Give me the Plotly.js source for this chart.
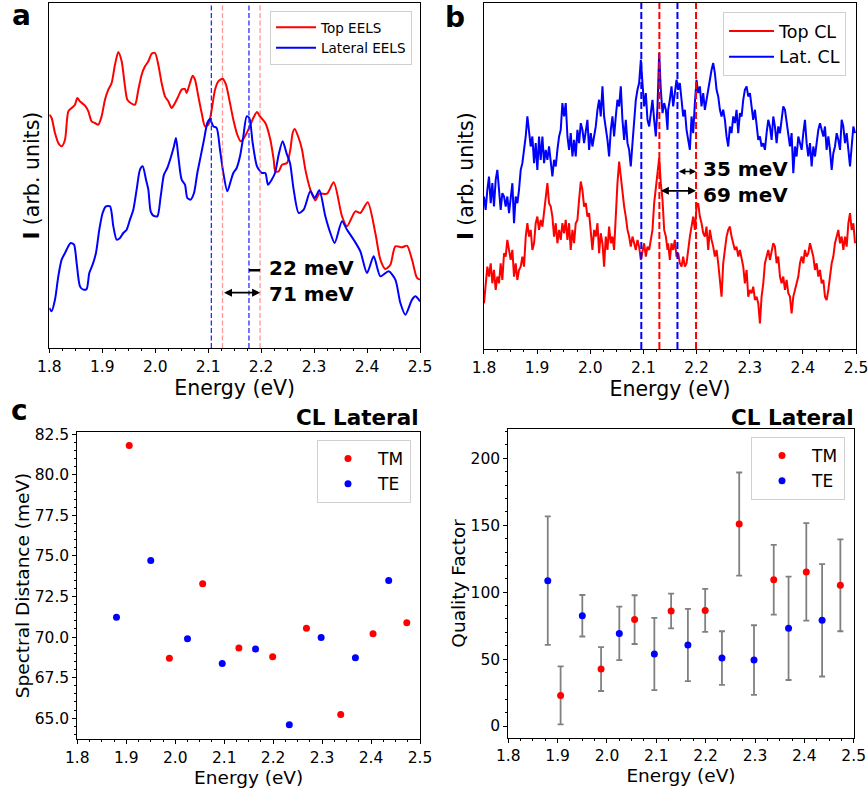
<!DOCTYPE html>
<html>
<head>
<meta charset="utf-8">
<script src="https://cdn.plot.ly/plotly-3.0.1.min.js"></script>
<style>html,body{margin:0;padding:0;background:#fff;}#chart{width:868px;height:790px;}</style>
</head>
<body>
<div id="chart"></div>
<script>
// ---------- Panel a : EELS spectra ----------
const eelsTopE = [1.800,1.8044,1.8107,1.8170,1.8233,1.8296,1.8359,1.8422,1.8485,1.8529,1.8579,1.8674,1.8737,1.8799,1.8862,1.8925,1.8988,1.9051,1.9114,1.9177,1.9240,1.9303,1.9366,1.9429,1.9473,1.9536,1.9618,1.9681,1.9744,1.9807,1.9870,1.9933,1.9996,2.0058,2.0121,2.0184,2.0247,2.0310,2.0373,2.0436,2.0499,2.0562,2.0593,2.0656,2.0707,2.0751,2.0814,2.0877,2.0940,2.1003,2.1066,2.1129,2.1192,2.1273,2.1336,2.1399,2.1475,2.1550,2.1613,2.1676,2.1758,2.1852,2.1922,2.1978,2.2079,2.2174,2.2237,2.2268,2.2331,2.2394,2.2488,2.2551,2.2595,2.2633,2.2709,2.2772,2.2835,2.2929,2.3023,2.3099,2.3244,2.3370,2.3527,2.3621,2.3779,2.3873,2.4012,2.4156,2.4251,2.4345,2.4440,2.4534,2.4660,2.4754,2.4849,2.4943,2.5000];
const eelsTopI = [70.0,69.0,64.5,61.5,60.5,62.5,71.0,72.0,73.0,75.0,74.0,72.7,71.0,68.0,67.5,67.0,69.5,74.5,77.5,79.5,85.0,88.8,86.0,78.5,74.5,73.5,73.0,77.5,82.0,84.5,86.0,88.3,88.5,85.0,79.5,75.5,74.0,72.0,73.5,75.5,77.5,77.7,76.5,79.5,81.7,80.5,75.5,70.5,66.5,67.0,71.5,77.5,80.0,80.8,79.0,74.5,68.5,64.0,62.0,63.0,65.5,69.0,70.8,69.5,67.5,62.5,56.5,53.0,53.0,55.0,55.5,59.5,64.5,65.7,63.0,59.5,53.5,47.5,44.3,46.3,46.3,49.7,39.5,36.5,41.0,40.5,43.7,34.5,26.5,23.7,25.0,30.5,30.2,30.7,26.5,21.0,20.5];
const eelsLatE = [1.800,1.8044,1.8107,1.8170,1.8233,1.8296,1.8359,1.8403,1.8466,1.8516,1.8579,1.8642,1.8705,1.8755,1.8818,1.8881,1.8944,1.9007,1.9070,1.9146,1.9209,1.9272,1.9335,1.9397,1.9460,1.9523,1.9586,1.9649,1.9712,1.9763,1.9826,1.9870,1.9914,1.9964,2.0040,2.0103,2.0165,2.0228,2.0291,2.0354,2.0392,2.0436,2.0499,2.0562,2.0606,2.0669,2.0732,2.0795,2.0858,2.0921,2.0984,2.1034,2.1097,2.1160,2.1223,2.1286,2.1361,2.1424,2.1475,2.1538,2.1601,2.1664,2.1727,2.1777,2.1840,2.1922,2.2016,2.2079,2.2129,2.2199,2.2262,2.2331,2.2406,2.2488,2.2545,2.2614,2.2709,2.2803,2.2929,2.3011,2.3099,2.3212,2.3307,2.3389,2.3527,2.3621,2.3747,2.3873,2.3999,2.4125,2.4251,2.4408,2.4534,2.4629,2.4723,2.4849,2.4912,2.5000];
const eelsLatI = [12.0,11.0,14.5,21.5,26.5,28.5,30.5,31.5,31.0,25.5,18.5,17.5,17.7,22.5,25.0,28.5,35.5,40.5,42.5,42.5,36.5,32.5,33.0,34.5,35.5,38.5,41.5,47.5,53.5,54.5,50.5,47.5,41.0,39.7,39.5,45.5,52.0,54.0,57.0,60.5,63.0,57.5,50.5,49.0,45.0,44.5,46.5,52.5,57.5,62.5,67.5,68.7,66.5,66.0,59.5,52.5,47.0,50.0,52.5,54.0,57.5,63.5,69.5,69.0,61.5,54.5,52.5,52.5,49.0,50.5,52.5,58.0,62.0,58.0,55.5,47.5,40.5,41.5,47.0,45.0,47.3,39.5,34.5,31.5,38.0,35.5,32.5,29.0,22.5,27.5,21.5,23.0,20.5,13.5,10.0,14.5,15.5,14.0];
const eelsTopPeaks = [2.127, 2.198];
const eelsLatPeaks = [2.106, 2.177];

// ---------- Panel b : CL spectra ----------
const clE = [1.8000,1.8031,1.8063,1.8094,1.8126,1.8157,1.8188,1.8220,1.8251,1.8283,1.8314,1.8345,1.8377,1.8408,1.8439,1.8471,1.8502,1.8534,1.8565,1.8596,1.8628,1.8659,1.8691,1.8722,1.8753,1.8785,1.8816,1.8848,1.8879,1.8910,1.8942,1.8973,1.9004,1.9036,1.9067,1.9099,1.9130,1.9161,1.9193,1.9224,1.9256,1.9287,1.9318,1.9350,1.9381,1.9413,1.9444,1.9475,1.9507,1.9538,1.9570,1.9601,1.9632,1.9664,1.9695,1.9726,1.9758,1.9789,1.9821,1.9852,1.9883,1.9915,1.9946,1.9978,2.0009,2.0040,2.0072,2.0103,2.0135,2.0166,2.0197,2.0229,2.0260,2.0291,2.0323,2.0354,2.0386,2.0417,2.0448,2.0480,2.0511,2.0543,2.0574,2.0605,2.0637,2.0668,2.0700,2.0731,2.0762,2.0794,2.0825,2.0857,2.0888,2.0919,2.0951,2.0982,2.1013,2.1045,2.1076,2.1108,2.1139,2.1170,2.1202,2.1233,2.1265,2.1296,2.1327,2.1359,2.1390,2.1422,2.1453,
2.1465,2.1497,2.1528,2.1560,2.1591,2.1622,2.1654,2.1685,2.1717,2.1748,2.1779,2.1811,2.1842,2.1874,2.1905,2.1936,2.1968,2.1999,2.2030,2.2062,2.2093,2.2125,2.2156,2.2187,2.2219,2.2250,2.2282,2.2313,2.2344,2.2376,2.2407,2.2439,2.2470,2.2501,2.2533,2.2564,2.2595,2.2627,2.2658,2.2690,2.2721,2.2752,2.2784,2.2815,2.2847,2.2878,2.2909,2.2941,2.2972,2.3004,2.3035,2.3066,2.3098,2.3129,2.3161,2.3192,2.3223,2.3255,2.3286,2.3317,2.3349,2.3380,2.3412,2.3443,2.3474,2.3506,2.3537,2.3569,2.3600,2.3631,2.3663,2.3694,2.3726,2.3757,2.3788,2.3820,2.3851,2.3882,2.3914,2.3945,2.3977,2.4008,2.4039,2.4071,2.4102,2.4134,2.4165,2.4196,2.4228,2.4259,2.4291,2.4322,2.4353,2.4385,2.4416,2.4447,2.4479,2.4510,2.4542,2.4573,2.4604,2.4636,2.4667,2.4699,2.4730,2.4761,2.4793,2.4824,2.4856,2.4887,2.4918,2.4950,2.4981];
const clTopI = [13.7,19.7,24.7,21.7,25.7,19.7,23.7,17.7,21.7,19.7,
25.7,20.7,28.7,27.7,32.7,29.7,26.7,29.7,21.7,25.7,
20.7,23.7,24.7,27.7,24.7,33.7,37.7,33.7,35.7,29.7,
31.7,37.7,39.7,35.7,38.7,36.7,40.7,44.7,49.7,43.7,
42.7,39.7,33.7,37.7,31.7,35.7,32.7,37.7,34.7,38.7,
32.7,37.7,29.7,35.7,31.7,37.7,38.7,44.7,50.2,47.7,
42.7,43.7,39.7,40.7,33.7,29.7,35.7,33.7,37.7,28.7,
34.7,31.7,24.7,33.7,29.7,36.7,31.7,33.7,29.7,41.7,
49.7,56.2,51.7,46.7,42.7,39.7,35.7,33.7,30.7,33.7,
31.7,29.7,32.7,30.7,26.7,29.7,31.7,27.7,30.7,29.7,
32.7,35.7,43.7,47.7,52.7,57.2,49.7,44.7,35.7,33.7,
29.7,
31.7,26.7,31.7,29.7,32.7,27.7,28.7,25.7,24.7,27.7,
24.7,25.7,30.7,33.7,36.7,39.7,35.7,42.7,43.7,39.7,
37.7,34.7,33.7,36.7,29.7,35.7,32.7,30.7,27.7,29.7,
25.7,19.7,15.7,25.7,29.7,33.7,35.7,36.7,33.7,31.7,
29.7,30.7,27.7,29.7,26.7,24.7,19.7,23.7,15.7,17.7,
16.7,18.7,14.7,15.7,13.7,7.7,15.7,19.7,25.7,27.7,
29.7,26.7,29.7,31.7,30.7,25.7,27.7,21.7,19.7,21.7,
17.7,20.7,16.7,15.7,10.7,15.7,17.7,19.7,21.7,25.7,
27.7,25.7,29.7,27.7,28.7,31.7,29.7,27.7,23.7,25.7,
21.7,23.7,19.7,20.7,15.7,14.7,17.7,21.7,25.7,27.7,
31.7,33.7,35.7,31.7,33.7,29.7,33.7,30.7,37.7,40.7,
35.7,37.7,31.7];
const clLatI = [45.7,41.7,47.7,51.7,43.7,49.7,42.7,50.7,53.7,46.7,
41.7,46.7,45.7,42.7,45.7,40.7,44.7,49.7,37.7,45.7,
43.7,47.7,53.7,55.7,59.7,63.7,69.7,65.7,60.7,63.7,
55.7,61.7,53.7,63.7,56.7,63.7,55.7,59.7,56.7,60.7,
55.7,51.7,56.7,54.7,59.7,63.7,65.7,73.7,69.7,73.7,
63.7,59.7,64.7,57.7,62.7,57.7,65.7,61.7,67.7,65.7,
61.7,64.7,68.7,59.7,64.7,60.7,63.7,66.7,71.7,74.7,
69.7,78.7,69.7,66.7,62.7,57.7,65.7,69.7,63.7,69.7,
74.7,72.7,78.7,68.7,62.7,68.7,61.7,59.7,54.7,61.7,
69.7,74.7,77.7,79.7,86.7,79.7,72.7,76.7,68.7,66.7,
71.7,74.7,68.7,63.7,72.7,88.7,77.7,70.7,73.7,71.7,
65.7,
71.7,74.7,78.7,72.7,76.7,80.7,77.7,79.7,74.7,69.7,
71.7,65.7,62.7,59.7,69.7,64.7,73.7,80.7,76.7,78.7,
72.7,76.7,71.7,74.7,78.7,81.7,83.7,85.7,82.7,77.7,
75.7,71.7,69.7,71.7,68.7,63.7,60.7,66.7,64.7,69.7,
67.7,71.7,64.7,70.7,69.7,74.7,77.7,78.7,75.7,76.7,
72.7,68.7,71.7,66.7,62.7,63.7,60.7,61.7,59.7,64.7,
68.7,66.7,62.7,69.7,66.7,61.7,66.7,64.7,69.7,72.7,
71.7,67.7,64.7,60.7,64.7,52.7,60.7,57.7,63.7,61.7,
59.7,64.7,68.7,61.7,57.7,61.7,54.7,60.7,57.7,61.7,
65.7,67.7,65.7,63.7,66.7,59.7,63.7,59.7,53.7,58.7,
60.7,64.7,62.7,59.7,68.7,66.7,61.7,64.7,59.7,54.7,
60.7,66.7,64.7];
const clTopPeaks = [2.130, 2.199];
const clLatPeaks = [2.096, 2.164];

// ---------- Panels c & d ----------
const energyTM = [1.906,1.988,2.056,2.130,2.199,2.268,2.338,2.404,2.473];
const energyTE = [1.880,1.950,2.025,2.096,2.164,2.233,2.298,2.368,2.436];
const distTM = [81.80,68.70,73.28,69.33,68.78,70.55,65.23,70.20,70.88];
const distTE = [71.22,74.72,69.89,68.37,69.27,64.59,69.97,68.72,73.48];
const qualTM = [22.9,42.6,79.5,85.9,86.4,150.9,109.3,115.1,105.1];
const qualTMerr = [21.7,16.4,18.2,13.0,16.0,38.5,26.0,36.4,34.3];
const qualTE = [108.6,82.4,69.2,53.8,60.5,50.8,49.3,73.0,79.0];
const qualTEerr = [48.0,15.5,20.0,27.0,27.0,20.0,26.0,38.6,42.0];

const xTicks = [1.8,1.9,2.0,2.1,2.2,2.3,2.4,2.5];

// ---------- build ----------
const FONT = 'DejaVu Sans, Liberation Sans, sans-serif';
const RED = '#ff0000', BLUE = '#0000ff';

const traces = [
  {x: eelsTopE, y: eelsTopI, name: 'Top EELS', mode: 'lines', line: {color: RED, width: 2, shape: 'spline', smoothing: 0.7}, xaxis: 'x', yaxis: 'y', legend: 'legend'},
  {x: eelsLatE, y: eelsLatI, name: 'Lateral EELS', mode: 'lines', line: {color: BLUE, width: 2, shape: 'spline', smoothing: 0.7}, xaxis: 'x', yaxis: 'y', legend: 'legend'},
  {x: clE, y: clTopI, name: 'Top CL', mode: 'lines', line: {color: RED, width: 2}, xaxis: 'x2', yaxis: 'y2', legend: 'legend2'},
  {x: clE, y: clLatI, name: 'Lat. CL', mode: 'lines', line: {color: BLUE, width: 2}, xaxis: 'x2', yaxis: 'y2', legend: 'legend2'},
  {x: energyTM, y: distTM, name: 'TM', mode: 'markers', marker: {color: RED, size: 7}, xaxis: 'x3', yaxis: 'y3', legend: 'legend3'},
  {x: energyTE, y: distTE, name: 'TE', mode: 'markers', marker: {color: BLUE, size: 7}, xaxis: 'x3', yaxis: 'y3', legend: 'legend3'},
  {x: energyTM, y: qualTM, name: 'TM', mode: 'markers', marker: {color: RED, size: 7},
   error_y: {type: 'data', array: qualTMerr, visible: true, color: '#808080', thickness: 1.8, width: 3},
   xaxis: 'x4', yaxis: 'y4', legend: 'legend4'},
  {x: energyTE, y: qualTE, name: 'TE', mode: 'markers', marker: {color: BLUE, size: 7},
   error_y: {type: 'data', array: qualTEerr, visible: true, color: '#808080', thickness: 1.8, width: 3},
   xaxis: 'x4', yaxis: 'y4', legend: 'legend4'}
];

function xAxis(domain, anchor, titleSize, standoff) {
  return {
    domain: domain, anchor: anchor, range: [1.8, 2.5],
    tickvals: xTicks, tickformat: '.1f', ticklabeloverflow: 'allow',
    showline: true, mirror: true, linecolor: 'black', linewidth: 1,
    ticks: 'outside', ticklen: 4, tickwidth: 1, tickcolor: 'black',
    minor: {ticks: 'outside', ticklen: 2, tickwidth: 1, tickcolor: 'black', dtick: 0.025, tick0: 1.8, showgrid: false},
    showgrid: false, zeroline: false,
    tickfont: {family: FONT, size: 15.5, color: 'black'},
    title: {text: 'Energy (eV)', font: {family: FONT, size: titleSize, color: 'black'}, standoff: standoff}
  };
}
function yAxisBlank(domain, anchor, range) {
  return {
    domain: domain, anchor: anchor, range: range,
    showline: true, mirror: true, linecolor: 'black', linewidth: 1,
    showticklabels: false, ticks: '', showgrid: false, zeroline: false,
    title: {text: '<b>I</b> (arb. units)', font: {family: FONT, size: 20.5, color: 'black'}, standoff: 3}
  };
}

const shapes = [];
function vline(xr, yr, x, color, width, dash) {
  shapes.push({type: 'line', xref: xr, yref: yr + ' domain', x0: x, x1: x, y0: 0, y1: 1,
    line: {color: color, width: width, dash: dash}, layer: 'above'});
}
eelsLatPeaks.forEach(v => vline('x', 'y', v, '#2a2aff', 1.3, '5px,2.5px'));
eelsTopPeaks.forEach(v => vline('x', 'y', v, 'rgba(255,80,80,0.6)', 1.3, '5px,2.5px'));
clLatPeaks.forEach(v => vline('x2', 'y2', v, BLUE, 2, '7px,3px'));
clTopPeaks.forEach(v => vline('x2', 'y2', v, RED, 2, '7px,3px'));
// short "22 meV" bar
shapes.push({type: 'line', xref: 'x', yref: 'y', x0: eelsLatPeaks[1], x1: eelsTopPeaks[1], y0: 23.3, y1: 23.3,
  line: {color: 'black', width: 2.5}, layer: 'above'});

function arrow(xr, yr, x0, x1, y, size) {
  return {xref: xr, yref: yr, axref: xr, ayref: yr, x: x1, y: y, ax: x0, ay: y, text: '',
    showarrow: true, arrowside: 'end+start', arrowhead: 2, arrowsize: size, arrowwidth: 1.6, arrowcolor: 'black'};
}
function label(xr, yr, x, y, txt, yanchor) {
  return {xref: xr, yref: yr, x: x, y: y, text: '<b>' + txt + '</b>', showarrow: false,
    xanchor: 'left', yanchor: yanchor, borderpad: 0, font: {family: FONT, size: 20, color: 'black'}};
}
function paperText(x, y, txt, size, xanchor) {
  return {xref: 'paper', yref: 'paper', x: x, y: y, text: '<b>' + txt + '</b>', showarrow: false,
    xanchor: xanchor, yanchor: 'middle', font: {family: FONT, size: size, color: 'black'}};
}

const annotations = [
  arrow('x', 'y', eelsTopPeaks[0], eelsTopPeaks[1], 16.6, 1),
  label('x', 'y', 2.2125, 20.0, '22 meV', 'bottom'),
  label('x', 'y', 2.2125, 20.0, '71 meV', 'top'),
  arrow('x2', 'y2', clLatPeaks[1], clTopPeaks[1], 53.2, 0.8),
  arrow('x2', 'y2', clTopPeaks[0], clTopPeaks[1], 47.4, 1),
  label('x2', 'y2', 2.2100, 50.05, '35 meV', 'bottom'),
  label('x2', 'y2', 2.2100, 50.05, '69 meV', 'top'),
  paperText(10/868, 1 - 15.5/790, 'a', 28, 'left'),
  paperText(443/868, 1 - 17/790, 'b', 28, 'left'),
  paperText(9/868, 1 - 410/790, 'c', 28, 'left'),
  paperText(421/868, 1 - 417/790, 'CL Lateral', 21.5, 'right'),
  paperText(856/868, 1 - 417/790, 'CL Lateral', 21.5, 'right')
];

function legendBox(x, y, size, iw) {
  return {x: x, y: y, xanchor: 'right', yanchor: 'top', xref: 'paper', yref: 'paper',
    bgcolor: 'rgba(255,255,255,0.85)', bordercolor: '#d0d0d0', borderwidth: 1,
    font: {family: FONT, size: size, color: 'black'}, itemwidth: iw, tracegroupgap: 0};
}

const layout = {
  width: 868, height: 790,
  margin: {l: 0, r: 0, t: 0, b: 0},
  paper_bgcolor: 'white', plot_bgcolor: 'white',
  font: {family: FONT, color: 'black'},
  showlegend: true,
  xaxis: xAxis([0.0568, 0.4839], 'y', 20.5, 2),
  yaxis: yAxisBlank([0.5595, 0.9962], 'x', [0, 103.5]),
  xaxis2: xAxis([0.5576, 0.9862], 'y2', 20.5, 2),
  yaxis2: yAxisBlank([0.5582, 0.9962], 'x2', [0, 103.7]),
  xaxis3: xAxis([0.0891, 0.4839], 'y3', 18.5, 2),
  yaxis3: {
    domain: [0.0646, 0.4532], anchor: 'x3', range: [63.72, 82.64],
    tick0: 65, dtick: 2.5, tickformat: '.1f',
    showline: true, mirror: true, linecolor: 'black', linewidth: 1,
    ticks: 'outside', ticklen: 4, tickwidth: 1, tickcolor: 'black',
    minor: {ticks: 'outside', ticklen: 2, tickwidth: 1, tickcolor: 'black', dtick: 0.5, tick0: 65, showgrid: false},
    showgrid: false, zeroline: false,
    tickfont: {family: FONT, size: 15.5, color: 'black'},
    title: {text: 'Spectral Distance (meV)', font: {family: FONT, size: 18.5, color: 'black'}, standoff: 0}
  },
  xaxis4: xAxis([0.5856, 0.9835], 'y4', 18.5, 2),
  yaxis4: {
    domain: [0.0662, 0.4570], anchor: 'x4', range: [-8.7, 221.9],
    tick0: 0, dtick: 50,
    showline: true, mirror: true, linecolor: 'black', linewidth: 1,
    ticks: 'outside', ticklen: 4, tickwidth: 1, tickcolor: 'black',
    minor: {ticks: 'outside', ticklen: 2, tickwidth: 1, tickcolor: 'black', dtick: 10, tick0: 0, showgrid: false},
    showgrid: false, zeroline: false,
    tickfont: {family: FONT, size: 15.5, color: 'black'},
    title: {text: 'Quality Factor', font: {family: FONT, size: 18.5, color: 'black'}, standoff: 0}
  },
  legend: legendBox(0.4747, 0.9861, 13.5, 40),
  legend2: legendBox(0.9747, 0.9848, 17.5, 45),
  legend3: legendBox(0.4735, 0.4430, 17, 50),
  legend4: legendBox(0.9735, 0.4468, 17, 50),
  shapes: shapes,
  annotations: annotations
};

Plotly.newPlot('chart', traces, layout, {displayModeBar: false, staticPlot: true});
</script>
</body>
</html>
